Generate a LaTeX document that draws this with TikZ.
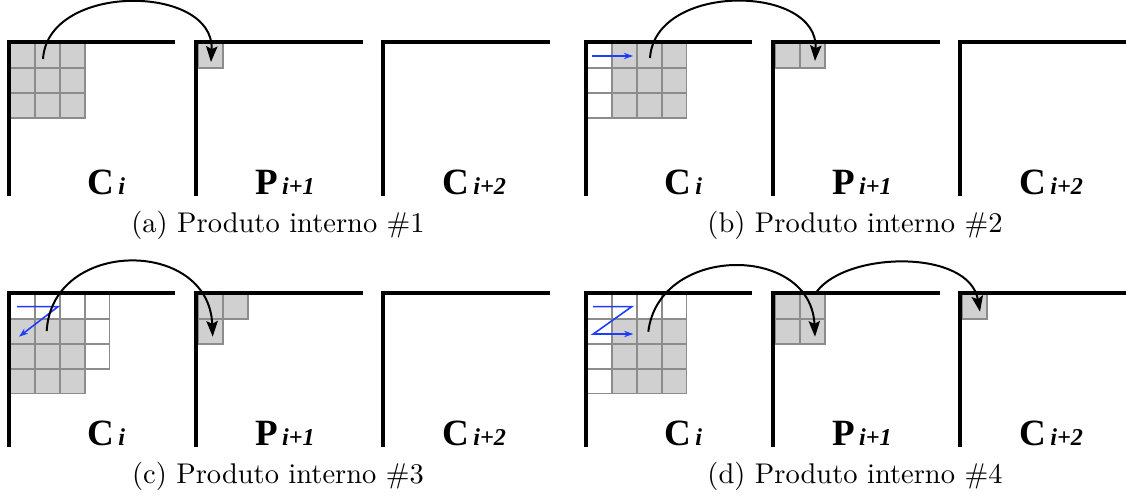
\documentclass[tikz,border=0pt]{standalone}
\usepackage{fontspec}
\usetikzlibrary{arrows.meta}
\newfontfamily\matfont{Liberation Serif}
\definecolor{cellgray}{RGB}{208,208,208}
\definecolor{gridgray}{RGB}{140,140,140}
\definecolor{scanblue}{RGB}{30,60,255}
\newcommand{\csz}{24.75}
% bold matrix letter + bold italic index on the same baseline
\newcommand{\mlabel}[2]{{\matfont\bfseries\fontsize{13}{13}\selectfont
  #1\hspace{1.4pt}{\itshape\fontsize{8.5}{8.5}\selectfont #2}}}
% one cell: style, grid origin x, row, column
\newcommand{\cell}[4]{\draw[#1] ({#2+#4*\csz},{43.5+#3*\csz}) rectangle ++(\csz,\csz)}
% the three matrix frames of one panel, with their names
\newcommand{\frames}[1]{%
  \draw[frame] (175,42) -- (9,42) -- (9,196);
  \draw[frame] (363,42) -- (196,42) -- (196,196);
  \draw[frame] (550,42) -- (383,42) -- (383,196);
  \node[matname] (#1-C)  at (87,195)  {\mlabel{C}{i}};
  \node[matname] (#1-P)  at (255,195) {\mlabel{P}{i+1}};
  \node[matname] (#1-C2) at (442,195) {\mlabel{C}{i+2}};
}
\begin{document}
\begin{tikzpicture}[x=0.351pt, y=-0.351pt, line join=miter,
  frame/.style={line width=1.1pt},
  cellon/.style={fill=cellgray, draw=gridgray, line width=0.6pt},
  celloff/.style={fill=white, draw=gridgray, line width=0.6pt},
  hop/.style={-{Stealth[length=5.5pt, width=4pt, inset=1pt]}, line width=0.7pt},
  scan/.style={scanblue, line width=0.55pt, -{Stealth[length=3.2pt, width=2.2pt]}},
  matname/.style={anchor=base west, inner sep=0pt},
  subcap/.style={anchor=base, inner sep=0pt, font=\fontsize{10}{12}\selectfont}]

  \useasboundingbox (0,0) rectangle (1126,504);

  % ---- (a) ----
  \begin{scope}
    \foreach \r in {0,1,2} \foreach \c in {0,1,2} \cell{cellon}{10.5}{\r}{\c};
    \cell{cellon}{198.5}{0}{0};
    \frames{a}
    \coordinate (a-src) at (43,59);
    \coordinate (a-dst) at (211,62);
    \draw[hop] (a-src) .. controls (48,-18) and (215,-16) .. (a-dst);
    \node[subcap] (a-cap) at (278,233) {(a) Produto interno \#1};
  \end{scope}

  % ---- (b) ----
  \begin{scope}[shift={(577,0)}]
    \foreach \r in {0,1,2} \cell{celloff}{10.5}{\r}{0};
    \foreach \r in {0,1,2} \foreach \c in {1,2,3} \cell{cellon}{10.5}{\r}{\c};
    \foreach \c in {0,1} \cell{cellon}{198.5}{0}{\c};
    \frames{b}
    \coordinate (b-s0) at (15,56);
    \coordinate (b-s1) at (56,56);
    \draw[scan] (b-s0) -- (b-s1);
    \coordinate (b-src) at (73,58);
    \coordinate (b-dst) at (238,61);
    \draw[hop] (b-src) .. controls (78,-18) and (242,-16) .. (b-dst);
    \node[subcap] (b-cap) at (278,233) {(b) Produto interno \#2};
  \end{scope}

  % ---- (c) ----
  \begin{scope}[shift={(0,251)}]
    \foreach \c in {0,...,3} \cell{celloff}{10.5}{0}{\c};
    \foreach \r in {1,2} \cell{celloff}{10.5}{\r}{3};
    \foreach \r in {1,2,3} \foreach \c in {0,1,2} \cell{cellon}{10.5}{\r}{\c};
    \foreach \r/\c in {0/0,0/1,1/0} \cell{cellon}{198.5}{\r}{\c};
    \frames{c}
    \coordinate (c-s0) at (17,55.7);
    \coordinate (c-s1) at (58,55.7);
    \coordinate (c-s2) at (19,85.7);
    \draw[scan] (c-s0) -- (c-s1) -- (c-s2);
    \coordinate (c-src) at (46.7,80);
    \coordinate (c-dst) at (212.7,85.7);
    \draw[hop] (c-src) .. controls (52,-13) and (209,-13) .. (c-dst);
    \node[subcap] (c-cap) at (278,233) {(c) Produto interno \#3};
  \end{scope}

  % ---- (d) ----
  \begin{scope}[shift={(577,251)}]
    \foreach \c in {0,...,3} \cell{celloff}{10.5}{0}{\c};
    \foreach \r in {1,2,3} \cell{celloff}{10.5}{\r}{0};
    \foreach \r in {1,2,3} \foreach \c in {1,2,3} \cell{cellon}{10.5}{\r}{\c};
    \foreach \r in {0,1} \foreach \c in {0,1} \cell{cellon}{198.5}{\r}{\c};
    \cell{cellon}{385.5}{0}{0};
    \frames{d}
    \coordinate (d-s0) at (16,55.7);
    \coordinate (d-s1) at (54.7,55.7);
    \coordinate (d-s2) at (16.3,83);
    \coordinate (d-s3) at (56.3,83);
    \draw[scan] (d-s0) -- (d-s1) -- (d-s2) -- (d-s3);
    \coordinate (d-src)  at (71.3,80.7);
    \coordinate (d-dst)  at (238,85.7);
    \draw[hop] (d-src) .. controls (82,-7) and (234,-7) .. (d-dst);
    \coordinate (d-src2) at (239.7,40.7);
    \coordinate (d-dst2) at (403,60.7);
    \draw[hop] (d-src2) .. controls (270,0) and (392,-2) .. (d-dst2);
    \node[subcap] (d-cap) at (278,233) {(d) Produto interno \#4};
  \end{scope}
\end{tikzpicture}
\end{document}
